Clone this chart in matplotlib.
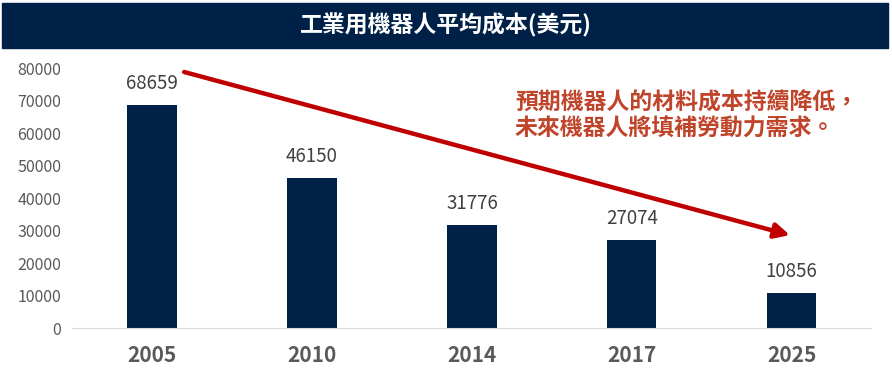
import matplotlib.pyplot as plt
from matplotlib.patches import Rectangle

plt.rcParams['font.family'] = ['Noto Sans CJK TC', 'DejaVu Sans']

years = ['2005', '2010', '2014', '2017', '2025']
costs = [68659, 46150, 31776, 27074, 10856]

title = '工業用機器人平均成本(美元)'
note = '預期機器人的材料成本持續降低，\n未來機器人將填補勞動力需求。'

navy = '#002147'

fig = plt.figure(figsize=(8.92, 3.72), dpi=100)
ax = fig.add_axes([0.081, 0.118, 0.896, 0.699])

# title banner
fig.patches.append(Rectangle((2 / 892, 0.871), 886 / 892, 0.121,
                             transform=fig.transFigure, color=navy, zorder=0))
fig.text(0.5, 0.931, title, color='white', fontsize=16.5, fontweight='bold',
         ha='center', va='center')

x = range(len(years))
ax.bar(x, costs, width=0.31, color=navy)
for i, v in zip(x, costs):
    ax.annotate(str(v), (i, v), xytext=(0, 8), textcoords='offset points',
                ha='center', va='bottom', fontsize=13.5, color='#404040')

ax.set_xlim(-0.5, 4.5)
ax.set_ylim(0, 80000)
ax.set_yticks(range(0, 80001, 10000))
ax.set_xticks(list(x))
ax.set_xticklabels(years, fontsize=15, fontweight='bold', color='#595959')
ax.tick_params(axis='y', labelsize=11.5, labelcolor='#595959', length=0, pad=8)
ax.tick_params(axis='x', length=0, pad=12)
for s in ['top', 'right', 'left']:
    ax.spines[s].set_visible(False)
ax.spines['bottom'].set_color('#d9d9d9')

# trend arrow
ax.annotate('', xy=(3.99, 28600), xytext=(0.2, 78800),
            arrowprops=dict(arrowstyle='-|>,head_length=0.9,head_width=0.45',
                            color='#C00000', lw=3.2, shrinkA=0, shrinkB=0))

ax.text(2.27, 65200, note, fontsize=16.5, fontweight='bold', color='#C0442A',
        ha='left', va='center', linespacing=1.2)

fig.savefig('out.png', dpi=100)
